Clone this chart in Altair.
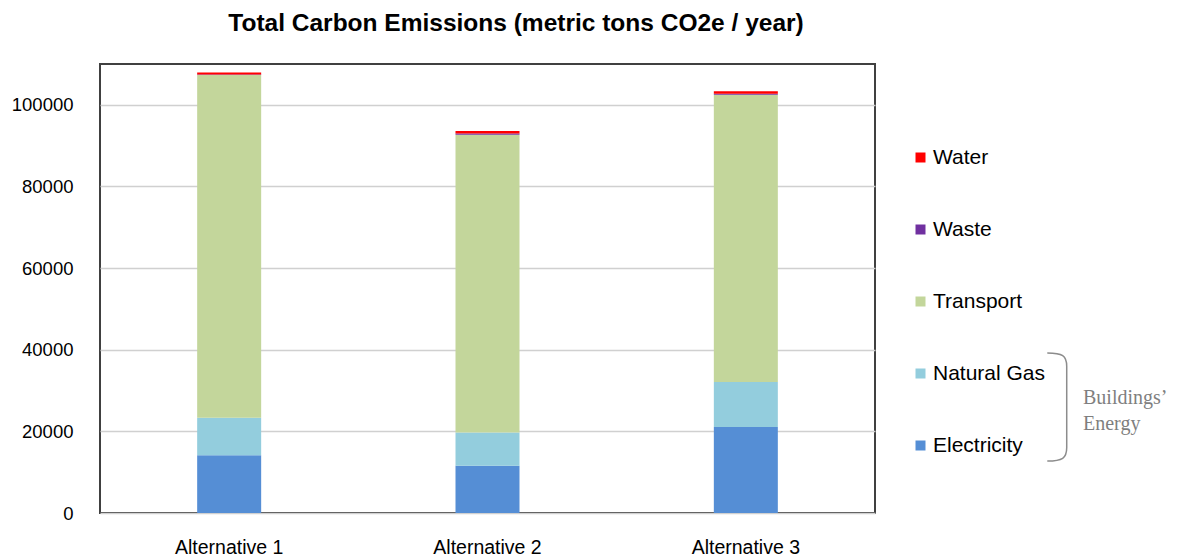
import altair as alt
import pandas as pd

alternatives = ["Alternative 1", "Alternative 2", "Alternative 3"]
categories = ["Water", "Waste", "Transport", "Natural Gas", "Electricity"]
colors = ["#FF0000", "#7030A0", "#C3D69B", "#93CDDD", "#558ED5"]
stack_order = [5, 4, 3, 2, 1]

electricity = [14150, 11550, 21050]
natural_gas = [9200, 8200, 11050]
transport = [83950, 72930, 70340]
waste = [100, 300, 300]
water = [500, 600, 600]

series = {
    "Electricity": electricity,
    "Natural Gas": natural_gas,
    "Transport": transport,
    "Waste": waste,
    "Water": water,
}

rows = []
for cat, vals in series.items():
    for alt_name, v in zip(alternatives, vals):
        rows.append({
            "alternative": alt_name,
            "source": cat,
            "value": v,
            "order": stack_order[categories.index(cat)],
        })
df = pd.DataFrame(rows)

title_text = "Total Carbon Emissions (metric tons CO2e / year)"
bracket_label = ["Buildings\u2019", "Energy"]

W, H = 775, 449

bars = alt.Chart(df).mark_bar(size=64).encode(
    x=alt.X("alternative:N", sort=alternatives, title=None,
            scale=alt.Scale(paddingInner=0, paddingOuter=0),
            axis=alt.Axis(labelAngle=0, ticks=False, domain=False,
                          labelFontSize=19.5, labelPadding=25,
                          labelColor="#000000", labelFont="Liberation Sans")),
    y=alt.Y("value:Q", title=None,
            scale=alt.Scale(domain=[0, 110000], nice=False),
            axis=alt.Axis(values=[0, 20000, 40000, 60000, 80000, 100000],
                          format="d", ticks=False, domain=False,
                          labelFontSize=18.5, labelPadding=27,
                          labelColor="#000000", labelFont="Liberation Sans",
                          grid=True, gridColor="#D0D0D0", gridWidth=1.5)),
    color=alt.Color("source:N",
                    scale=alt.Scale(domain=categories, range=colors),
                    legend=alt.Legend(title=None, orient="none",
                                      legendX=810, legendY=83,
                                      symbolType="square", symbolSize=100,
                                      symbolStrokeWidth=0,
                                      labelFontSize=21, labelFont="Liberation Sans",
                                      labelColor="#000000", rowPadding=50,
                                      labelOffset=2, padding=0)),
    order=alt.Order("order:Q", sort="ascending"),
)

one = pd.DataFrame({"a": [0]})

title = alt.Chart(one).mark_text(
    text=title_text, fontSize=24.5, fontWeight="bold", font="Liberation Sans",
    align="center", baseline="alphabetic", color="#000000"
).encode(x=alt.value(416), y=alt.value(-33))

bracket = alt.Chart(one).mark_point(
    shape="M -0.18 -1 C 0.1 -1 0.18 -0.95 0.18 -0.75 L 0.18 0.75 C 0.18 0.95 0.1 1 -0.18 1",
    size=11664, filled=False, stroke="#8C8C8C", strokeWidth=1.5, opacity=1
).encode(x=alt.value(957), y=alt.value(343))

lab1 = alt.Chart(one).mark_text(
    text=bracket_label[0], fontSize=20, font="Liberation Serif",
    align="left", baseline="alphabetic", color="#7F7F7F"
).encode(x=alt.value(983), y=alt.value(340))

lab2 = alt.Chart(one).mark_text(
    text=bracket_label[1], fontSize=20, font="Liberation Serif",
    align="left", baseline="alphabetic", color="#7F7F7F"
).encode(x=alt.value(983), y=alt.value(366))

chart = alt.layer(bars, title, bracket, lab1, lab2).properties(
    width=W, height=H,
    autosize=alt.AutoSizeParams(type="none"),
    padding={"left": 92, "top": 56, "right": 294, "bottom": 45},
    background="#FFFFFF",
).configure_view(
    stroke="#404040", strokeWidth=2
)

chart.save("out.html", embed_options={"renderer": "svg", "actions": False})
